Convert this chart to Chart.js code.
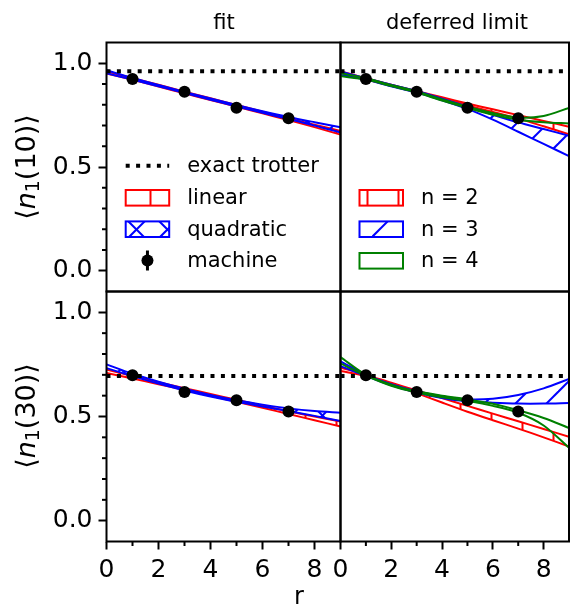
<!DOCTYPE html>
<html>
<head>
<meta charset="utf-8">
<script src="https://cdn.jsdelivr.net/npm/chart.js@4.4.0/dist/chart.umd.min.js"></script>
<style>
  body { margin: 0; background: #fff; }
  #wrap { position: relative; width: 575px; height: 605px; font-family: 'DejaVu Sans', sans-serif; color: #000; }
  #wrap canvas { position: absolute; left: 0; top: 0; }
  .lbl { position: absolute; white-space: nowrap; font-size: 21px; line-height: 1; transform: translate(-50%, -50%); }
  .ylab { font-size: 27px; transform: translate(-50%, -50%) rotate(-90deg); }
  .ylab sub { font-size: 0.7em; vertical-align: -0.25em; line-height: 0; }
</style>
</head>
<body>
<div id="wrap">
  <canvas id="fit10" width="575" height="605"></canvas>
  <canvas id="def10" width="575" height="605"></canvas>
  <canvas id="fit30" width="575" height="605"></canvas>
  <canvas id="def30" width="575" height="605"></canvas>
  <div class="lbl" style="left:224px; top:22px;">fit</div>
  <div class="lbl" style="left:457px; top:22px;">deferred limit</div>
  <div class="lbl" style="left:299px; top:596px; font-size:24px;">r</div>
  <div class="lbl ylab" style="left:25px; top:167px;">⟨<i>n</i><sub>1</sub>(10)⟩</div>
  <div class="lbl ylab" style="left:25px; top:416px;">⟨<i>n</i><sub>1</sub>(30)⟩</div>
</div>
<script>
// r values
const rGrid = [0, 1, 2, 3, 4, 5, 6, 7, 8, 9];
const rMachine = [1, 3, 5, 7];
const rExact = [0, 9];

// machine results and exact trotter
const machine10 = [0.924, 0.863, 0.786, 0.735];
const machine30 = [0.698, 0.618, 0.578, 0.524];
const exact10 = [0.962, 0.962];
const exact30 = [0.695, 0.695];

// fit bands, <n1(10)>
const fit10LinearHi = [0.961, 0.928, 0.896, 0.863, 0.831, 0.799, 0.767, 0.735, 0.704, 0.674];
const fit10LinearLo = [0.951, 0.920, 0.888, 0.855, 0.823, 0.791, 0.759, 0.726, 0.692, 0.656];
const fit10QuadHi = [0.966, 0.929, 0.895, 0.862, 0.830, 0.799, 0.769, 0.741, 0.716, 0.692];
const fit10QuadLo = [0.952, 0.921, 0.889, 0.857, 0.824, 0.792, 0.761, 0.731, 0.700, 0.666];

// fit bands, <n1(30)>
const fit30LinearHi = [0.725, 0.694, 0.665, 0.636, 0.608, 0.580, 0.552, 0.525, 0.500, 0.476];
const fit30LinearLo = [0.709, 0.682, 0.655, 0.628, 0.600, 0.571, 0.542, 0.512, 0.482, 0.452];
const fit30QuadHi = [0.750, 0.705, 0.667, 0.633, 0.603, 0.578, 0.557, 0.539, 0.526, 0.518];
const fit30QuadLo = [0.732, 0.694, 0.658, 0.625, 0.596, 0.571, 0.548, 0.526, 0.503, 0.478];

// deferred limit bands, <n1(10)>
const def10n2Hi = [0.962, 0.928, 0.897, 0.866, 0.836, 0.806, 0.778, 0.750, 0.722, 0.694];
const def10n2Lo = [0.953, 0.922, 0.892, 0.860, 0.829, 0.797, 0.765, 0.733, 0.696, 0.658];
const def10n3Hi = [0.960, 0.928, 0.896, 0.866, 0.829, 0.792, 0.752, 0.715, 0.683, 0.651];
const def10n3Lo = [0.944, 0.921, 0.889, 0.859, 0.822, 0.780, 0.728, 0.670, 0.611, 0.553];
const def10n4Hi = [0.952, 0.928, 0.895, 0.864, 0.826, 0.790, 0.760, 0.738, 0.746, 0.785];
const def10n4Lo = [0.938, 0.921, 0.890, 0.859, 0.820, 0.784, 0.752, 0.728, 0.716, 0.710];

// deferred limit bands, <n1(30)>
const def30n2Hi = [0.735, 0.700, 0.662, 0.625, 0.588, 0.551, 0.514, 0.477, 0.440, 0.403];
const def30n2Lo = [0.718, 0.695, 0.655, 0.612, 0.567, 0.523, 0.482, 0.442, 0.400, 0.356];
const def30n3Hi = [0.765, 0.701, 0.655, 0.621, 0.597, 0.582, 0.585, 0.603, 0.635, 0.680];
const def30n3Lo = [0.742, 0.695, 0.650, 0.615, 0.589, 0.573, 0.566, 0.562, 0.562, 0.565];
const def30n4Hi = [0.785, 0.700, 0.653, 0.621, 0.600, 0.582, 0.561, 0.530, 0.493, 0.445];
const def30n4Lo = [0.755, 0.696, 0.647, 0.615, 0.592, 0.574, 0.551, 0.518, 0.457, 0.350];

// axis ticks
const yMinorTicks = [0.1, 0.2, 0.3, 0.4, 0.6, 0.7, 0.8, 0.9];
const xMinorTicks = [1, 3, 5, 7];

const RED = '#ff0000', BLUE = '#0000ff', GREEN = '#008000';
const FONT = "'DejaVu Sans', sans-serif";

// hatch patterns, anchored to page coords (all canvases sit at 0,0)
function makeHatch(kind, color) {
    const T = 31;
    const tile = document.createElement('canvas');
    tile.width = T; tile.height = T;
    const g = tile.getContext('2d');
    g.strokeStyle = color;
    g.lineWidth = 2;
    const ne = (c0) => {
        for (let k = -1; k <= 2; k++) {
            const c = c0 + k * T;
            g.beginPath(); g.moveTo(c + 2, -2); g.lineTo(c - T - 2, T + 2); g.stroke();
        }
    };
    const nw = (c0) => {
        for (let k = -2; k <= 1; k++) {
            const c = c0 + k * T;
            g.beginPath(); g.moveTo(c - 2, -2); g.lineTo(c + T + 2, T + 2); g.stroke();
        }
    };
    if (kind === '|') {
        g.fillStyle = color;
        g.fillRect(25.5, 0, 2, T);
    } else if (kind === '/') {
        ne(20);
    } else if (kind === 'x') {
        ne(25);
        nw(0);
    }
    return g.createPattern(tile, 'repeat');
}

function pts(xs, ys) {
    return xs.map((x, i) => ({ x: x, y: ys[i] }));
}

function band(hi, lo, color, hatch, order) {
    const common = { borderColor: color, borderWidth: 2, pointRadius: 0, tension: 0.3, order: order };
    return [
        Object.assign({ data: pts(rGrid, hi), fill: '+1', backgroundColor: hatch ? makeHatch(hatch, color) : 'rgba(0,0,0,0)' }, common),
        Object.assign({ data: pts(rGrid, lo), fill: false }, common)
    ];
}

function machineSet(vals) {
    return { data: pts(rMachine, vals), showLine: false, pointRadius: 6, pointHoverRadius: 6,
             pointBackgroundColor: '#000', pointBorderWidth: 0, order: 0 };
}

function exactSet(vals) {
    return { data: pts(rExact, vals), borderColor: '#000', borderWidth: 4, borderDash: [4, 6.4],
             borderCapStyle: 'butt', pointRadius: 0, order: 1 };
}

// frame, minor ticks and in-panel legend
const panelDecor = {
    id: 'panelDecor',
    afterDraw(chart, args, opts) {
        const ctx = chart.ctx;
        const a = chart.chartArea;
        ctx.save();
        ctx.strokeStyle = '#000';
        ctx.lineWidth = 2;
        if (opts.showY) {
            yMinorTicks.forEach(v => {
                const y = chart.scales.y.getPixelForValue(v);
                ctx.beginPath(); ctx.moveTo(a.left - 4.5, y); ctx.lineTo(a.left, y); ctx.stroke();
            });
        }
        if (opts.showX) {
            xMinorTicks.forEach(v => {
                const x = chart.scales.x.getPixelForValue(v);
                ctx.beginPath(); ctx.moveTo(x, a.bottom); ctx.lineTo(x, a.bottom + 4.5); ctx.stroke();
            });
        }
        ctx.strokeRect(a.left, a.top, a.right - a.left, a.bottom - a.top);

        (opts.legend || []).forEach(item => {
            const x0 = opts.legendX, x1 = opts.legendX + 43.5, y = item.y;
            if (item.kind === 'dots') {
                ctx.setLineDash([4, 6.4]);
                ctx.lineWidth = 4;
                ctx.lineCap = 'butt';
                ctx.beginPath(); ctx.moveTo(x0, y); ctx.lineTo(x1, y); ctx.stroke();
                ctx.setLineDash([]);
            } else if (item.kind === 'box') {
                ctx.lineWidth = 2;
                ctx.strokeStyle = item.color;
                if (item.hatch) {
                    ctx.fillStyle = makeHatch(item.hatch, item.color);
                    ctx.fillRect(x0, y - 7.8, x1 - x0, 15.6);
                }
                ctx.strokeRect(x0, y - 7.8, x1 - x0, 15.6);
                ctx.strokeStyle = '#000';
            } else if (item.kind === 'marker') {
                const xm = (x0 + x1) / 2;
                ctx.lineWidth = 3;
                ctx.beginPath(); ctx.moveTo(xm, y - 10); ctx.lineTo(xm, y + 10); ctx.stroke();
                ctx.fillStyle = '#000';
                ctx.beginPath(); ctx.arc(xm, y, 6, 0, Math.PI * 2); ctx.fill();
            }
            ctx.fillStyle = '#000';
            ctx.font = '21px ' + FONT;
            ctx.textBaseline = 'middle';
            ctx.textAlign = 'left';
            ctx.fillText(item.text, opts.legendX + 61.5, y + 1);
        });
        ctx.restore();
    }
};

// axis boxes get fixed sizes so the plot areas line up across the four canvases
function makeScales(box, showX, showY) {
    const tickFont = { family: FONT, size: 25 };
    const xH = showX ? 605 - box[3] : 0;
    const yW = showY ? box[0] : 0;
    return {
        x: {
            type: 'linear', min: 0, max: 9,
            afterFit: s => { s.height = xH; },
            border: { display: false },
            grid: { display: showX, drawOnChartArea: false, tickLength: 8, tickWidth: 2, tickColor: '#000' },
            ticks: { display: showX, stepSize: 2, includeBounds: false, padding: 6, color: '#000',
                     font: tickFont, maxRotation: 0, autoSkip: false }
        },
        y: {
            type: 'linear', min: -0.1, max: 1.1,
            afterFit: s => { s.width = yW; },
            border: { display: false },
            grid: { display: showY, drawOnChartArea: false, tickLength: 8, tickWidth: 2, tickColor: '#000' },
            ticks: { display: showY, stepSize: 0.5, includeBounds: false, padding: 6, color: '#000',
                     font: tickFont, callback: v => v.toFixed(1) }
        }
    };
}

function makePanel(id, box, datasets, decor) {
    const padLeft = decor.showY ? 0 : box[0];
    const padBottom = decor.showX ? 0 : 605 - box[3];
    new Chart(document.getElementById(id), {
        type: 'line',
        data: { datasets: datasets },
        options: {
            responsive: false,
            animation: false,
            events: [],
            layout: { padding: { left: padLeft, top: box[1], right: 575 - box[2], bottom: padBottom } },
            scales: makeScales(box, decor.showX, decor.showY),
            plugins: { legend: { display: false }, tooltip: { enabled: false }, panelDecor: decor }
        },
        plugins: [panelDecor]
    });
}

const LEFT = 106.5, MID = 340.5, RIGHT = 573.5, TOP = 42.5, HMID = 291.5, BOTTOM = 541.5;

makePanel('fit10', [LEFT, TOP, MID, HMID], [
    machineSet(machine10), exactSet(exact10),
    ...band(fit10QuadHi, fit10QuadLo, BLUE, 'x', 3),
    ...band(fit10LinearHi, fit10LinearLo, RED, '|', 4)
], {
    showX: false, showY: true, legendX: 125.7,
    legend: [
        { kind: 'dots', text: 'exact trotter', y: 165.7 },
        { kind: 'box', color: RED, hatch: '|', text: 'linear', y: 197.8 },
        { kind: 'box', color: BLUE, hatch: 'x', text: 'quadratic', y: 229.2 },
        { kind: 'marker', text: 'machine', y: 260.5 }
    ]
});

makePanel('def10', [MID, TOP, RIGHT, HMID], [
    machineSet(machine10), exactSet(exact10),
    ...band(def10n4Hi, def10n4Lo, GREEN, null, 2),
    ...band(def10n3Hi, def10n3Lo, BLUE, '/', 3),
    ...band(def10n2Hi, def10n2Lo, RED, '|', 4)
], {
    showX: false, showY: false, legendX: 359.5,
    legend: [
        { kind: 'box', color: RED, hatch: '|', text: 'n = 2', y: 197.8 },
        { kind: 'box', color: BLUE, hatch: '/', text: 'n = 3', y: 229.2 },
        { kind: 'box', color: GREEN, hatch: null, text: 'n = 4', y: 260.8 }
    ]
});

makePanel('fit30', [LEFT, HMID, MID, BOTTOM], [
    machineSet(machine30), exactSet(exact30),
    ...band(fit30QuadHi, fit30QuadLo, BLUE, 'x', 3),
    ...band(fit30LinearHi, fit30LinearLo, RED, '|', 4)
], { showX: true, showY: true });

makePanel('def30', [MID, HMID, RIGHT, BOTTOM], [
    machineSet(machine30), exactSet(exact30),
    ...band(def30n4Hi, def30n4Lo, GREEN, null, 2),
    ...band(def30n3Hi, def30n3Lo, BLUE, '/', 3),
    ...band(def30n2Hi, def30n2Lo, RED, '|', 4)
], { showX: true, showY: false });
</script>
</body>
</html>
